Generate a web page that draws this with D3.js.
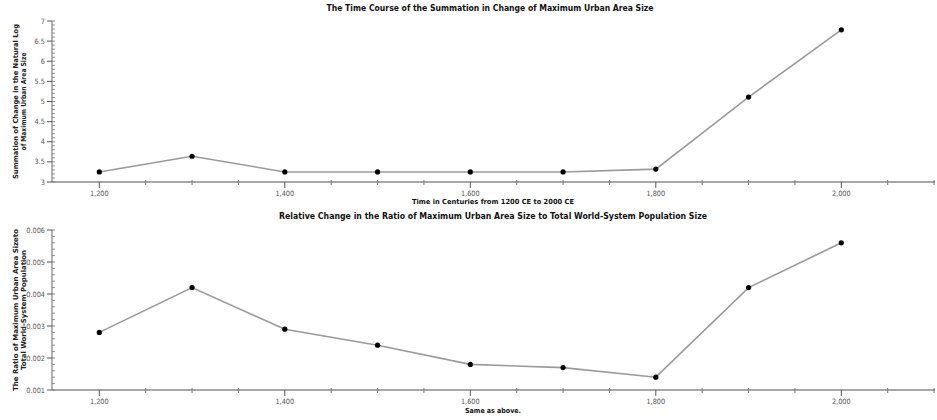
<!DOCTYPE html>
<html><head><meta charset="utf-8">
<script src="https://cdn.jsdelivr.net/npm/d3@7"></script>
<style>
html,body{margin:0;padding:0;background:#fff;}
svg text{font-family:"DejaVu Sans Condensed","DejaVu Sans",sans-serif;}
</style></head>
<body><svg id="c" width="937" height="420"></svg>
<script>
const years = [1200,1300,1400,1500,1600,1700,1800,1900,2000];
const sumLogChange = [3.25,3.64,3.25,3.25,3.25,3.25,3.32,5.11,6.78];
const ratioUrbanToPop = [0.0028,0.0042,0.0029,0.0024,0.0018,0.0017,0.0014,0.0042,0.0056];
const xTickLabels = [1200,1400,1600,1800,2000];
const topYTicks = [3,3.5,4,4.5,5,5.5,6,6.5,7];
const botYTicks = [0.001,0.002,0.003,0.004,0.005,0.006];
const titles = ["The Time Course of the Summation in Change of Maximum Urban Area Size",
  "Relative Change in the Ratio of Maximum Urban Area Size to Total World-System Population Size"];
const xTitles = ["Time in Centuries from 1200 CE to 2000 CE","Same as above."];
const yTitles = [["Summation of Change in the Natural Log","of Maximum Urban Area Size"],
  ["The Ratio of Maximum Urban Area Sizeto","Total World-System Population"]];

const svg = d3.select("#c");
const x = d3.scaleLinear().domain([1149,2101]).range([52,935]);
const axisCol = "#8a8a8a";
const fmtYear = d3.format(",");

function panel(opts){
  const g = svg.append("g");
  const y = d3.scaleLinear().domain(opts.ydom).range([opts.y1, opts.y0]);
  g.append("line").attr("x1",52).attr("x2",935).attr("y1",opts.y1).attr("y2",opts.y1)
    .attr("stroke",axisCol).attr("stroke-width",1.3);
  g.append("line").attr("x1",52).attr("x2",52).attr("y1",opts.y0).attr("y2",opts.y1)
    .attr("stroke",axisCol).attr("stroke-width",1.3);
  const xt = d3.range(1200,2101,50);
  g.selectAll(".xt").data(xt).join("line")
    .attr("x1",d=>x(d)).attr("x2",d=>x(d))
    .attr("y1",d=> d%200===0 ? opts.y1 : opts.y1-2)
    .attr("y2",d=> d%200===0 ? opts.y1+6 : opts.y1+3)
    .attr("stroke",d=> d%200===0 ? "#555" : "#777").attr("stroke-width",1);
  g.selectAll(".xl").data(xTickLabels).join("text")
    .attr("x",d=>x(d)).attr("y",opts.y1+14).attr("text-anchor","middle")
    .attr("font-size",7.3).attr("fill","#555").text(d=>fmtYear(d));
  const n = Math.round((opts.ydom[1]-opts.ydom[0])/opts.minor);
  const ymin = d3.range(0,n+1).map(i=>opts.ydom[0]+i*opts.minor);
  g.selectAll(".ym").data(ymin).join("line")
    .attr("x1",52).attr("x2",55).attr("y1",d=>y(d)).attr("y2",d=>y(d))
    .attr("stroke","#777").attr("stroke-width",0.8);
  g.selectAll(".yM").data(opts.yticks).join("line")
    .attr("x1",47).attr("x2",52).attr("y1",d=>y(d)).attr("y2",d=>y(d))
    .attr("stroke","#555").attr("stroke-width",1);
  g.selectAll(".yl").data(opts.yticks).join("text")
    .attr("x",45).attr("y",d=>y(d)+2.5).attr("text-anchor","end")
    .attr("font-size",7.3).attr("fill","#555").text(d=>opts.fmt(d));
  const pts = years.map((d,i)=>[x(d), y(opts.vals[i])]);
  g.append("path").attr("d",d3.line()(pts)).attr("fill","none")
    .attr("stroke","#9a9a9a").attr("stroke-width",1.6);
  g.selectAll(".pt").data(pts).join("circle")
    .attr("cx",d=>d[0]).attr("cy",d=>d[1]).attr("r",2.6).attr("fill","#000");
  g.append("text").attr("x",opts.tcx).attr("y",opts.ty).attr("text-anchor","middle")
    .attr("font-size",8).attr("font-weight","bold").attr("fill","#111")
    .attr("textLength",opts.tw).attr("lengthAdjust","spacingAndGlyphs").text(opts.title);
  g.append("text").attr("x",493).attr("y",opts.xty).attr("text-anchor","middle")
    .attr("font-size",7).attr("font-weight","bold").attr("fill","#111")
    .attr("textLength",opts.xtw).attr("lengthAdjust","spacingAndGlyphs").text(opts.xtitle);
  const yc = (opts.y0+opts.y1)/2;
  opts.ytitle.forEach((t,i)=>{
    g.append("text").attr("transform",`translate(${18+i*8},${yc}) rotate(-90)`)
      .attr("text-anchor","middle").attr("font-size",7).attr("font-weight","bold").attr("fill","#222")
      .attr("textLength",opts.ytw[i]).attr("lengthAdjust","spacingAndGlyphs").text(t);
  });
}

panel({ydom:[3,7], y0:21, y1:182, vals:sumLogChange, yticks:topYTicks, minor:0.1,
  fmt:d3.format(""), title:titles[0], tcx:490, ty:11, tw:327,
  xtitle:xTitles[0], xty:204, xtw:162, ytitle:yTitles[0], ytw:[155,98]});
panel({ydom:[0.001,0.006], y0:230, y1:390, vals:ratioUrbanToPop, yticks:botYTicks, minor:0.0002,
  fmt:d3.format(".3f"), title:titles[1], tcx:493, ty:219, tw:428,
  xtitle:xTitles[1], xty:413, xtw:56, ytitle:yTitles[1], ytw:[162,120]});
</script></body></html>
